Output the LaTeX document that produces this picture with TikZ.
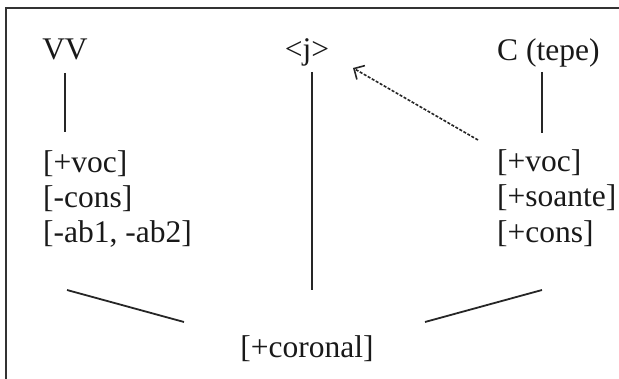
\documentclass[tikz,border=0pt]{standalone}
\usepackage{fontspec}
\setmainfont{Liberation Serif}
\usetikzlibrary{arrows.meta}
\begin{document}
\begin{tikzpicture}[x=1pt,y=-1pt,
  lbl/.style={inner sep=0pt, font=\fontsize{31.5}{35}\selectfont, text=black!90},
  ln/.style={line width=1.8pt, draw=black!85},
  dashln/.style={line width=1.6pt, draw=black!85, dash pattern=on 3pt off 1.6pt},
  frame/.style={line width=2.2pt, draw=black!80}]
\useasboundingbox (0,0) rectangle (619,379);
% frame (only left and top edges visible)
\coordinate (fbl) at (6,380);
\coordinate (ftl) at (6,8);
\coordinate (ftr) at (620,8);
\draw[frame] (fbl) -- (ftl) -- (ftr);

% top labels
\node[lbl, anchor=base] (vv) at (65,60) {VV};
\node[lbl, anchor=base] (j) at (307,60) {<j>};
\node[lbl, anchor=base west] (c) at (497,61) {C (tepe)};

% left feature block
\node[lbl, anchor=base west] (lv1) at (43,173) {[+voc]};
\node[lbl, anchor=base west] (lv2) at (43,208) {[-cons]};
\node[lbl, anchor=base west] (lv3) at (43,243) {[-ab1, -ab2]};

% right feature block
\node[lbl, anchor=base west] (rv1) at (497,172) {[+voc]};
\node[lbl, anchor=base west] (rv2) at (497,207) {[+soante]};
\node[lbl, anchor=base west] (rv3) at (497,243) {[+cons]};

% bottom
\node[lbl, anchor=base] (cor) at (307,358) {[+coronal]};

% connector end points
\coordinate (vvA) at (65,73);
\coordinate (vvB) at (65,132);
\coordinate (jA) at (312,72);
\coordinate (jB) at (312,290);
\coordinate (cA) at (542,72);
\coordinate (cB) at (542,133);
\coordinate (arrTail) at (478,140);
\coordinate (arrTip) at (353,68);
\coordinate (blA) at (67,290);
\coordinate (blB) at (184,322);
\coordinate (brA) at (542,290);
\coordinate (brB) at (425,322);

\draw[ln] (vvA) -- (vvB);
\draw[ln] (jA) -- (jB);
\draw[ln] (cA) -- (cB);
\draw[dashln, -{Straight Barb[length=8pt,width=16pt,line width=1.6pt]}] (arrTail) -- (arrTip);
\draw[ln] (blA) -- (blB);
\draw[ln] (brA) -- (brB);
\end{tikzpicture}
\end{document}
